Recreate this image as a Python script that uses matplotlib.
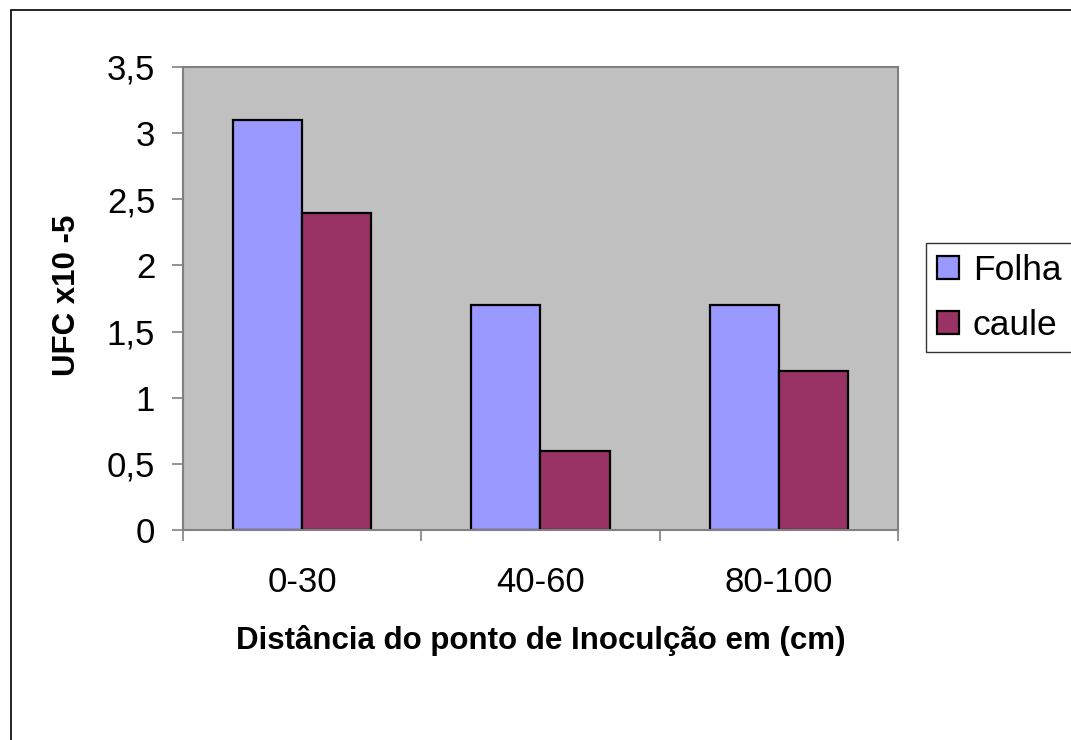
import matplotlib
matplotlib.use("Agg")
import numpy as np
from matplotlib import pyplot as plt
from matplotlib.patches import Rectangle

categories = ["0-30", "40-60", "80-100"]
folha = [3.1, 1.7, 1.7]
caule = [2.4, 0.6, 1.2]
series_names = ["Folha", "caule"]
y_ticks = [0, 0.5, 1, 1.5, 2, 2.5, 3, 3.5]
y_tick_labels = ["0", "0,5", "1", "1,5", "2", "2,5", "3", "3,5"]

plt.rcParams['font.family'] = ['Liberation Sans', 'DejaVu Sans']

W, H = 1071, 740
fig = plt.figure(figsize=(W / 100, H / 100), dpi=100)

# outer chart border (right/bottom run off the picture)
fig.patches.append(Rectangle((11 / W, -0.1), 1.2, 1 - 10 / H + 0.1,
                             transform=fig.transFigure, fill=False,
                             edgecolor='black', linewidth=1.2))

ax = fig.add_axes([183 / W, 1 - 530 / H, 715 / W, 463 / H])
ax.set_facecolor('#C0C0C0')

x = np.arange(len(categories))
bw = 0.29
ax.bar(x - bw / 2, folha, bw, color='#9999FF', edgecolor='black',
       linewidth=1.6, label=series_names[0])
ax.bar(x + bw / 2, caule, bw, color='#993366', edgecolor='black',
       linewidth=1.6, label=series_names[1])

ax.set_xlim(-0.5, len(categories) - 0.5)
ax.set_ylim(0, 3.5)
ax.set_yticks(y_ticks)
ax.set_yticklabels(y_tick_labels, fontsize=25)
ax.set_xticks(x)
ax.set_xticklabels(categories, fontsize=25)
ax.set_xticks(np.arange(len(categories) + 1) - 0.5, minor=True)

ax.tick_params(axis='y', direction='out', length=8, width=1.2,
               color='#808080', pad=12)
ax.tick_params(axis='x', which='major', length=0, pad=26)
ax.tick_params(axis='x', which='minor', direction='out', length=8,
               width=1.2, color='#808080')

for s in ax.spines.values():
    s.set_color('#808080')
    s.set_linewidth(1.5)

fig.text(67 / W, 1 - 295 / H, "UFC x10 -5", rotation=90, fontsize=22.5,
         fontweight='bold', ha='center', va='center')
fig.text(541 / W, 1 - 640 / H, "Distância do ponto de Inoculção em (cm)",
         fontsize=22.5, fontweight='bold', ha='center', va='center')

leg = fig.legend(loc='upper left', bbox_to_anchor=(926 / W, 1 - 243 / H),
                 fontsize=25.5, frameon=True, fancybox=False,
                 handlelength=0.62, handleheight=0.62, handletextpad=0.4,
                 labelspacing=0.62, borderpad=0.3, borderaxespad=0)
leg.get_frame().set_edgecolor('black')
leg.get_frame().set_linewidth(1.0)

fig.savefig("out.png", dpi=100)
